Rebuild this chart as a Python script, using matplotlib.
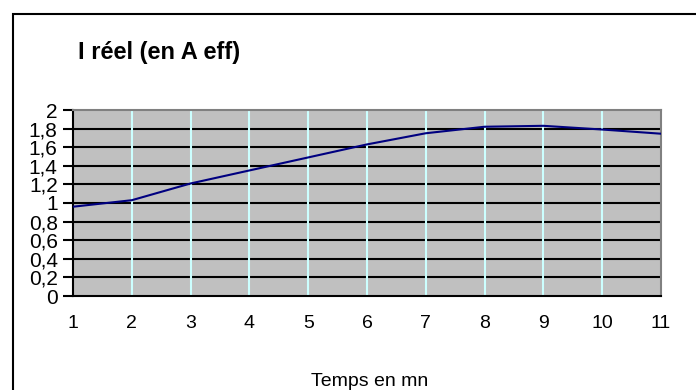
import matplotlib

matplotlib.use("Agg")
import matplotlib.pyplot as plt
from matplotlib.patches import Rectangle

# values
minutes = [1, 2, 3, 4, 5, 6, 7, 8, 9, 10, 11]
current = [0.96, 1.03, 1.21, 1.35, 1.49, 1.63, 1.75, 1.82, 1.83, 1.79, 1.745]
y_ticks = [0, 0.2, 0.4, 0.6, 0.8, 1, 1.2, 1.4, 1.6, 1.8, 2]
y_labels = [f"{v:g}".replace(".", ",") for v in y_ticks]

W, H = 696, 390
fig = plt.figure(figsize=(W / 100, H / 100), dpi=100)
fig.patch.set_facecolor("white")

# outer chart frame (cut off on the right and bottom)
fig.add_artist(Rectangle((13 / W, -0.05), 1.1, (H - 14) / H + 0.05,
                         transform=fig.transFigure, fill=False,
                         edgecolor="black", linewidth=1.5))

ax = fig.add_axes([73 / W, (H - 296) / H, (661 - 73) / W, (296 - 110) / H])
ax.set_facecolor("#c0c0c0")

ax.set_xlim(1, 11)
ax.set_ylim(0, 2)

for v in y_ticks[1:-1]:
    ax.axhline(v, color="black", linewidth=1.5, zorder=1)
for m in minutes[1:-1]:
    ax.axvline(m, color="#ccffff", linewidth=1.5, zorder=1)

ax.plot(minutes, current, color="#000080", linewidth=1.5, zorder=3)

fam = ["Liberation Sans", "DejaVu Sans"]

ax.set_xticks(minutes)
ax.set_xticklabels([str(m) for m in minutes], fontsize=14, family=fam)
ax.tick_params(axis="x", length=0, pad=14)

ax.set_yticks(y_ticks)
ax.set_yticklabels(y_labels, fontsize=15,
                   family=["Liberation Sans Narrow"] + fam)
ax.tick_params(axis="y", length=7, width=1.5, pad=4, color="black")

for side in ("left", "bottom"):
    ax.spines[side].set_color("black")
    ax.spines[side].set_linewidth(1.5)
for side in ("top", "right"):
    ax.spines[side].set_color("#808080")
    ax.spines[side].set_linewidth(1.5)

fig.text(78 / W, 1 - 52 / H, "I réel (en A eff)", fontsize=17, fontweight="bold",
         va="center", ha="left", family=fam)
fig.text(370 / W, 1 - 381 / H, "Temps en mn", fontsize=14,
         va="center", ha="center", family=fam)

fig.savefig("out.png", dpi=100)
